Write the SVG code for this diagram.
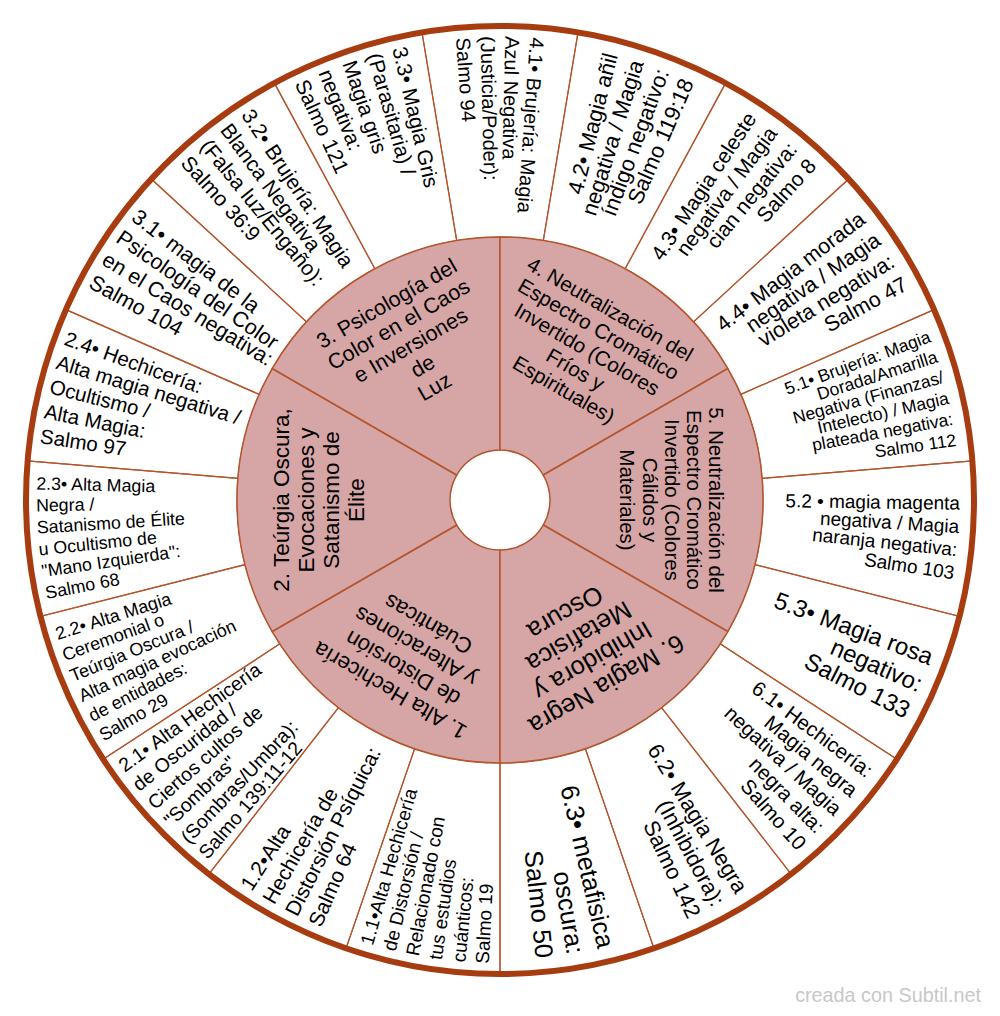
<svg xmlns="http://www.w3.org/2000/svg" width="1000" height="1016" viewBox="0 0 1000 1016">
<style>
.seg{fill:none;stroke:#b4552d;stroke-width:1.2}
.sec{fill:#d6a5a5;stroke:#b4552d;stroke-width:1.5}
.ring{fill:none;stroke:#a63c10;stroke-width:6}
text{font-family:"Liberation Sans",Arial,sans-serif;fill:#000}
.e{text-anchor:end}
.s{text-anchor:start}
.m{text-anchor:middle}
.wm{fill:#c8c8c8;font-size:19.8px;text-anchor:end}
</style>
<rect x="0" y="0" width="1000" height="1016" fill="#ffffff"/>
<circle cx="500" cy="500" r="474" fill="#ffffff"/>
<g id="outer-segments">
<g id="seg-4-1" class="s" font-size="20"><path class="seg" d="M456.71,240.59 L421.98,32.47 A474,474 0 0 1 578.02,32.47 L543.29,240.59 A263,263 0 0 0 456.71,240.59 Z"/>
<text y="7" transform="translate(500 500) rotate(274.59) translate(464 0) rotate(179.54)">4.1• Brujería: Magia</text>
<text y="7" transform="translate(500 500) rotate(271.53) translate(464 0) rotate(179.85)">Azul Negativa</text>
<text y="7" transform="translate(500 500) rotate(268.47) translate(464 0) rotate(180.15)">(Justicia/Poder):</text>
<text y="7" transform="translate(500 500) rotate(265.41) translate(464 0) rotate(180.46)">Salmo 94</text></g>
<g id="seg-4-2" class="e" font-size="22"><path class="seg" d="M543.29,240.59 L578.02,32.47 A474,474 0 0 1 725.60,83.14 L625.17,268.70 A263,263 0 0 0 543.29,240.59 Z"/>
<text y="7.7" transform="translate(500 500) rotate(-76.10) translate(460 0) rotate(0.51)">4.2• Magia añil</text>
<text y="7.7" transform="translate(500 500) rotate(-72.73) translate(460 0) rotate(0.17)">negativa / Magia</text>
<text y="7.7" transform="translate(500 500) rotate(-69.37) translate(460 0) rotate(-0.17)">índigo negativo:</text>
<text y="7.7" transform="translate(500 500) rotate(-66.00) translate(460 0) rotate(-0.51)">Salmo 119:18</text></g>
<g id="seg-4-3" class="e" font-size="21"><path class="seg" d="M625.17,268.70 L725.60,83.14 A474,474 0 0 1 848.72,178.97 L693.49,321.88 A263,263 0 0 0 625.17,268.70 Z"/>
<text y="7.35" transform="translate(500 500) rotate(-56.93) translate(460 0) rotate(0.48)">4.3• Magia celeste</text>
<text y="7.35" transform="translate(500 500) rotate(-53.72) translate(460 0) rotate(0.16)">negativa / Magia</text>
<text y="7.35" transform="translate(500 500) rotate(-50.50) translate(460 0) rotate(-0.16)">cian negativa:</text>
<text y="7.35" transform="translate(500 500) rotate(-47.29) translate(460 0) rotate(-0.48)">Salmo 8</text></g>
<g id="seg-4-4" class="e" font-size="21.5"><path class="seg" d="M693.49,321.88 L848.72,178.97 A474,474 0 0 1 934.07,309.60 L740.84,394.36 A263,263 0 0 0 693.49,321.88 Z"/>
<text y="7.5" transform="translate(500 500) rotate(-38.09) translate(460 0) rotate(0.49)">4.4• Magia morada</text>
<text y="7.5" transform="translate(500 500) rotate(-34.80) translate(460 0) rotate(0.16)">negativa / Magia</text>
<text y="7.5" transform="translate(500 500) rotate(-31.52) translate(460 0) rotate(-0.16)">violeta negativa:</text>
<text y="7.5" transform="translate(500 500) rotate(-28.23) translate(460 0) rotate(-0.49)">Salmo 47</text></g>
<g id="seg-5-1" class="e" font-size="17.5"><path class="seg" d="M740.84,394.36 L934.07,309.60 A474,474 0 0 1 972.38,460.86 L762.10,478.28 A263,263 0 0 0 740.84,394.36 Z"/>
<text y="6.1" transform="translate(500 500) rotate(-20.90) translate(460 0) rotate(0.67)">5.1• Brujería: Magia</text>
<text y="6.1" transform="translate(500 500) rotate(-18.23) translate(460 0) rotate(0.40)">Dorada/Amarilla</text>
<text y="6.1" transform="translate(500 500) rotate(-15.55) translate(460 0) rotate(0.13)">Negativa (Finanzas/</text>
<text y="6.1" transform="translate(500 500) rotate(-12.87) translate(460 0) rotate(-0.13)">Intelecto) / Magia</text>
<text y="6.1" transform="translate(500 500) rotate(-10.19) translate(460 0) rotate(-0.40)">plateada negativa:</text>
<text y="6.1" transform="translate(500 500) rotate(-7.52) translate(460 0) rotate(-0.67)">Salmo 112</text></g>
<g id="seg-5-2" class="e" font-size="19"><path class="seg" d="M762.10,478.28 L972.38,460.86 A474,474 0 0 1 959.49,616.36 L754.95,564.56 A263,263 0 0 0 762.10,478.28 Z"/>
<text y="6.65" transform="translate(500 500) rotate(0.38) translate(460 0) rotate(0.44)">5.2 • magia magenta</text>
<text y="6.65" transform="translate(500 500) rotate(3.29) translate(460 0) rotate(0.15)">negativa / Magia</text>
<text y="6.65" transform="translate(500 500) rotate(6.19) translate(460 0) rotate(-0.15)">naranja negativa:</text>
<text y="6.65" transform="translate(500 500) rotate(9.10) translate(460 0) rotate(-0.44)">Salmo 103</text></g>
<g id="seg-5-3" class="e" font-size="24"><path class="seg" d="M754.95,564.56 L959.49,616.36 A474,474 0 0 1 896.81,759.25 L720.17,643.85 A263,263 0 0 0 754.95,564.56 Z"/>
<text y="8.4" transform="translate(500 500) rotate(20.01) translate(460 0) rotate(0.37)">5.3• Magia rosa</text>
<text y="8.4" transform="translate(500 500) rotate(23.68) translate(460 0)">negativo:</text>
<text y="8.4" transform="translate(500 500) rotate(27.35) translate(460 0) rotate(-0.37)">Salmo 133</text></g>
<g id="seg-6-1" class="e" font-size="20.5"><path class="seg" d="M720.17,643.85 L896.81,759.25 A474,474 0 0 1 791.14,874.05 L661.54,707.54 A263,263 0 0 0 720.17,643.85 Z"/>
<text y="7.2" transform="translate(500 500) rotate(36.36) translate(460 0) rotate(0.63)">6.1• Hechicería:</text>
<text y="7.2" transform="translate(500 500) rotate(39.49) translate(460 0) rotate(0.31)">Magia negra</text>
<text y="7.2" transform="translate(500 500) rotate(42.63) translate(460 0)">negativa / Magia</text>
<text y="7.2" transform="translate(500 500) rotate(45.77) translate(460 0) rotate(-0.31)">negra alta:</text>
<text y="7.2" transform="translate(500 500) rotate(48.90) translate(460 0) rotate(-0.63)">Salmo 10</text></g>
<g id="seg-6-2" class="e" font-size="22"><path class="seg" d="M661.54,707.54 L791.14,874.05 A474,474 0 0 1 653.90,948.31 L585.39,748.75 A263,263 0 0 0 661.54,707.54 Z"/>
<text y="7.7" transform="translate(500 500) rotate(58.21) translate(460 0) rotate(0.34)">6.2• Magia Negra</text>
<text y="7.7" transform="translate(500 500) rotate(61.58) translate(460 0)">(Inhibidora):</text>
<text y="7.7" transform="translate(500 500) rotate(64.95) translate(460 0) rotate(-0.34)">Salmo 142</text></g>
<g id="seg-6-3" class="e" font-size="25.5"><path class="seg" d="M585.39,748.75 L653.90,948.31 A474,474 0 0 1 500,974 L500,763 A263,263 0 0 0 585.39,748.75 Z"/>
<text y="8.9" transform="translate(500 500) rotate(76.63) translate(460 0) rotate(0.39)">6.3• metafisica</text>
<text y="8.9" transform="translate(500 500) rotate(80.53) translate(460 0)">oscura:</text>
<text y="8.9" transform="translate(500 500) rotate(84.43) translate(460 0) rotate(-0.39)">Salmo 50</text></g>
<g id="seg-1-1" class="s" font-size="19"><path class="seg" d="M500,763 L500,974 A474,474 0 0 1 346.10,948.31 L414.61,748.75 A263,263 0 0 0 500,763 Z"/>
<text y="6.65" transform="translate(500 500) rotate(106.74) translate(464 0) rotate(179.27)">1.1•Alta Hechicería</text>
<text y="6.65" transform="translate(500 500) rotate(103.83) translate(464 0) rotate(179.56)">de Distorsión /</text>
<text y="6.65" transform="translate(500 500) rotate(100.92) translate(464 0) rotate(179.85)">Relacionado con</text>
<text y="6.65" transform="translate(500 500) rotate(98.02) translate(464 0) rotate(180.15)">tus estudios</text>
<text y="6.65" transform="translate(500 500) rotate(95.11) translate(464 0) rotate(180.44)">cuánticos:</text>
<text y="6.65" transform="translate(500 500) rotate(92.20) translate(464 0) rotate(180.73)">Salmo 19</text></g>
<g id="seg-1-2" class="s" font-size="21"><path class="seg" d="M414.61,748.75 L346.10,948.31 A474,474 0 0 1 208.86,874.05 L338.46,707.54 A263,263 0 0 0 414.61,748.75 Z"/>
<text y="7.35" transform="translate(500 500) rotate(123.24) translate(464 0) rotate(179.52)">1.2•Alta</text>
<text y="7.35" transform="translate(500 500) rotate(120.03) translate(464 0) rotate(179.84)">Hechicería de</text>
<text y="7.35" transform="translate(500 500) rotate(116.81) translate(464 0) rotate(180.16)">Distorsión Psíquica:</text>
<text y="7.35" transform="translate(500 500) rotate(113.60) translate(464 0) rotate(180.48)">Salmo 64</text></g>
<g id="seg-2-1" class="s" font-size="19.5"><path class="seg" d="M338.46,707.54 L208.86,874.05 A474,474 0 0 1 103.19,759.25 L279.83,643.85 A263,263 0 0 0 338.46,707.54 Z"/>
<text y="6.8" transform="translate(500 500) rotate(144.83) translate(464 0) rotate(179.25)">2.1• Alta Hechicería</text>
<text y="6.8" transform="translate(500 500) rotate(141.85) translate(464 0) rotate(179.55)">de Oscuridad /</text>
<text y="6.8" transform="translate(500 500) rotate(138.86) translate(464 0) rotate(179.85)">Ciertos cultos de</text>
<text y="6.8" transform="translate(500 500) rotate(135.88) translate(464 0) rotate(180.15)">"Sombras"</text>
<text y="6.8" transform="translate(500 500) rotate(132.89) translate(464 0) rotate(180.45)">(Sombras/Umbra):</text>
<text y="6.8" transform="translate(500 500) rotate(129.91) translate(464 0) rotate(180.75)">Salmo 139:11-12</text></g>
<g id="seg-2-2" class="s" font-size="18"><path class="seg" d="M279.83,643.85 L103.19,759.25 A474,474 0 0 1 40.51,616.36 L245.05,564.56 A263,263 0 0 0 279.83,643.85 Z"/>
<text y="6.3" transform="translate(500 500) rotate(163.21) translate(464 0) rotate(179.31)">2.2• Alta Magia</text>
<text y="6.3" transform="translate(500 500) rotate(160.45) translate(464 0) rotate(179.59)">Ceremonial o</text>
<text y="6.3" transform="translate(500 500) rotate(157.70) translate(464 0) rotate(179.86)">Teúrgia Oscura /</text>
<text y="6.3" transform="translate(500 500) rotate(154.94) translate(464 0) rotate(180.14)">Alta magia evocación</text>
<text y="6.3" transform="translate(500 500) rotate(152.19) translate(464 0) rotate(180.41)">de entidades:</text>
<text y="6.3" transform="translate(500 500) rotate(149.43) translate(464 0) rotate(180.69)">Salmo 29</text></g>
<g id="seg-2-3" class="s" font-size="17.8"><path class="seg" d="M245.05,564.56 L40.51,616.36 A474,474 0 0 1 27.62,460.86 L237.90,478.28 A263,263 0 0 0 245.05,564.56 Z"/>
<text y="6.2" transform="translate(500 500) rotate(182.07) translate(464 0) rotate(179.32)">2.3• Alta Magia</text>
<text y="6.2" transform="translate(500 500) rotate(179.34) translate(464 0) rotate(179.59)">Negra /</text>
<text y="6.2" transform="translate(500 500) rotate(176.62) translate(464 0) rotate(179.86)">Satanismo de Élite</text>
<text y="6.2" transform="translate(500 500) rotate(173.90) translate(464 0) rotate(180.14)">u Ocultismo de</text>
<text y="6.2" transform="translate(500 500) rotate(171.18) translate(464 0) rotate(180.41)">"Mano Izquierda":</text>
<text y="6.2" transform="translate(500 500) rotate(168.45) translate(464 0) rotate(180.68)">Salmo 68</text></g>
<g id="seg-2-4" class="s" font-size="20.5"><path class="seg" d="M237.90,478.28 L27.62,460.86 A474,474 0 0 1 65.93,309.60 L259.16,394.36 A263,263 0 0 0 237.90,478.28 Z"/>
<text y="7.2" transform="translate(500 500) rotate(200.48) translate(464 0) rotate(179.37)">2.4• Hechicería:</text>
<text y="7.2" transform="translate(500 500) rotate(197.35) translate(464 0) rotate(179.69)">Alta magia negativa /</text>
<text y="7.2" transform="translate(500 500) rotate(194.21) translate(464 0) rotate(180)">Ocultismo /</text>
<text y="7.2" transform="translate(500 500) rotate(191.07) translate(464 0) rotate(180.31)">Alta Magia:</text>
<text y="7.2" transform="translate(500 500) rotate(187.94) translate(464 0) rotate(180.63)">Salmo 97</text></g>
<g id="seg-3-1" class="s" font-size="21.5"><path class="seg" d="M259.16,394.36 L65.93,309.60 A474,474 0 0 1 151.28,178.97 L306.51,321.88 A263,263 0 0 0 259.16,394.36 Z"/>
<text y="7.5" transform="translate(500 500) rotate(218.09) translate(464 0) rotate(179.51)">3.1• magia de la</text>
<text y="7.5" transform="translate(500 500) rotate(214.80) translate(464 0) rotate(179.84)">Psicología del Color</text>
<text y="7.5" transform="translate(500 500) rotate(211.52) translate(464 0) rotate(180.16)">en el Caos negativa:</text>
<text y="7.5" transform="translate(500 500) rotate(208.23) translate(464 0) rotate(180.49)">Salmo 104</text></g>
<g id="seg-3-2" class="s" font-size="21"><path class="seg" d="M306.51,321.88 L151.28,178.97 A474,474 0 0 1 274.40,83.14 L374.83,268.70 A263,263 0 0 0 306.51,321.88 Z"/>
<text y="7.35" transform="translate(500 500) rotate(236.93) translate(464 0) rotate(179.52)">3.2• Brujería: Magia</text>
<text y="7.35" transform="translate(500 500) rotate(233.72) translate(464 0) rotate(179.84)">Blanca Negativa</text>
<text y="7.35" transform="translate(500 500) rotate(230.50) translate(464 0) rotate(180.16)">(Falsa luz/Engaño):</text>
<text y="7.35" transform="translate(500 500) rotate(227.29) translate(464 0) rotate(180.48)">Salmo 36:9</text></g>
<g id="seg-3-3" class="s" font-size="21"><path class="seg" d="M374.83,268.70 L274.40,83.14 A474,474 0 0 1 421.98,32.47 L456.71,240.59 A263,263 0 0 0 374.83,268.70 Z"/>
<text y="7.35" transform="translate(500 500) rotate(257.48) translate(464 0) rotate(179.36)">3.3• Magia Gris</text>
<text y="7.35" transform="translate(500 500) rotate(254.26) translate(464 0) rotate(179.68)">(Parasitaria) /</text>
<text y="7.35" transform="translate(500 500) rotate(251.05) translate(464 0) rotate(180)">Magia gris</text>
<text y="7.35" transform="translate(500 500) rotate(247.84) translate(464 0) rotate(180.32)">negativa:</text>
<text y="7.35" transform="translate(500 500) rotate(244.62) translate(464 0) rotate(180.64)">Salmo 121</text></g>
</g>
<g id="inner-sectors">
<g id="sector-1"><path class="sec" d="M500,550 L500,763 A263,263 0 0 1 272.23,631.5 L456.70,525 A50,50 0 0 0 500,550 Z"/>
<text class="m" font-size="22" transform="translate(500 500) rotate(210)"><tspan x="0" y="-212.55">1. Alta Hechicería</tspan><tspan x="0" y="-187.05">de Distorsión</tspan><tspan x="0" y="-161.55">y Alteraciones</tspan><tspan x="0" y="-136.05">Cuánticas</tspan></text></g>
<g id="sector-2"><path class="sec" d="M456.70,525 L272.23,631.5 A263,263 0 0 1 272.23,368.5 L456.70,475 A50,50 0 0 0 456.70,525 Z"/>
<text class="m" font-size="22.5" transform="translate(500 500) rotate(270)"><tspan x="0" y="-210.6">2. Teúrgia Oscura,</tspan><tspan x="0" y="-185.6">Evocaciones y</tspan><tspan x="0" y="-160.6">Satanismo de</tspan><tspan x="0" y="-135.6">Élite</tspan></text></g>
<g id="sector-3"><path class="sec" d="M456.70,475 L272.23,368.5 A263,263 0 0 1 500,237 L500,450 A50,50 0 0 0 456.70,475 Z"/>
<text class="m" font-size="21.5" transform="translate(500 500) rotate(330)"><tspan x="0" y="-219.5">3. Psicología del</tspan><tspan x="0" y="-195.5">Color en el Caos</tspan><tspan x="0" y="-171.5">e Inversiones</tspan><tspan x="0" y="-147.5">de</tspan><tspan x="0" y="-123.5">Luz</tspan></text></g>
<g id="sector-4"><path class="sec" d="M500,450 L500,237 A263,263 0 0 1 727.77,368.5 L543.30,475 A50,50 0 0 0 500,450 Z"/>
<text class="m" font-size="20.7" transform="translate(500 500) rotate(30)"><tspan x="0" y="-213.2">4. Neutralización del</tspan><tspan x="0" y="-190">Espectro Cromático</tspan><tspan x="0" y="-166.8">Invertido (Colores</tspan><tspan x="0" y="-143.6">Fríos y</tspan><tspan x="0" y="-120.4">Espirituales)</tspan></text></g>
<g id="sector-5"><path class="sec" d="M543.30,475 L727.77,368.5 A263,263 0 0 1 727.77,631.5 L543.30,525 A50,50 0 0 0 543.30,475 Z"/>
<text class="m" font-size="20.5" transform="translate(500 500) rotate(90)"><tspan x="0" y="-209.4">5. Neutralización del</tspan><tspan x="0" y="-187.1">Espectro Cromático</tspan><tspan x="0" y="-164.8">Invertido (Colores</tspan><tspan x="0" y="-142.5">Cálidos y</tspan><tspan x="0" y="-120.2">Materiales)</tspan></text></g>
<g id="sector-6"><path class="sec" d="M543.30,525 L727.77,631.5 A263,263 0 0 1 500,763 L500,550 A50,50 0 0 0 543.30,525 Z"/>
<text class="m" font-size="25.5" transform="translate(500 500) rotate(150)"><tspan x="0" y="-204.5">6. Magia Negra</tspan><tspan x="0" y="-176.9">Inhibidora y</tspan><tspan x="0" y="-149.3">Metafísica</tspan><tspan x="0" y="-121.7">Oscura</tspan></text></g>
</g>
<circle id="outer-ring" class="ring" cx="500" cy="500" r="474"/>
<text class="wm" x="981" y="1002">creada con Subtil.net</text>
</svg>
